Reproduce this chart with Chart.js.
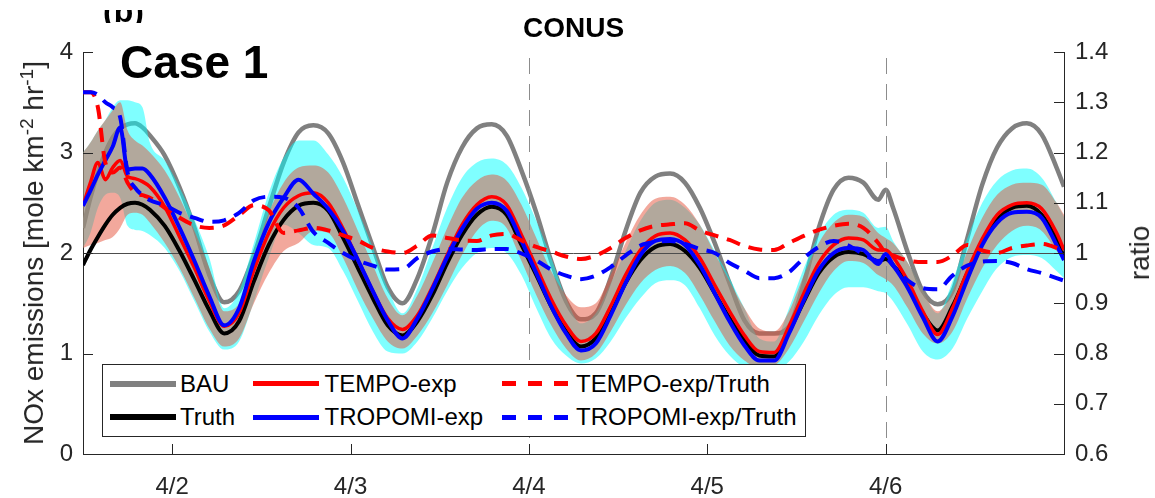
<!DOCTYPE html>
<html>
<head>
<meta charset="utf-8">
<script src="https://cdn.jsdelivr.net/npm/chart.js@4/dist/chart.umd.min.js"></script>
<style>
  html, body { margin: 0; padding: 0; background: #fff; }
  #wrap { position: relative; width: 1155px; height: 498px; overflow: hidden; background: #fff;
          font-family: 'Liberation Sans', Arial, Helvetica, sans-serif; }
  #c { position: absolute; left: 0; top: 0; }
  .abs { position: absolute; white-space: nowrap; line-height: 1; }
  sup { font-size: 0.68em; line-height: 0; vertical-align: 0.5em; }
  .lt { position: absolute; font-size: 24px; line-height: 24px; color: #000; white-space: nowrap; }
  .ls { position: absolute; width: 66px; }
</style>
</head>
<body>
<div id="wrap">
  <canvas id="c" width="1155" height="498"></canvas>

  <div class="abs" style="left:103px; top:10px; width:60px; height:13px; overflow:hidden;">
    <div class="abs" style="left:0; top:-14.6px; font-weight:bold; font-size:32px;">(b)</div>
  </div>
  <div class="abs" style="left:573.5px; top:14.3px; transform:translateX(-50%); font-weight:bold; font-size:28px;">CONUS</div>
  <div class="abs" style="left:120px; top:39px; font-weight:bold; font-size:46px;">Case 1</div>

  <div class="abs" style="left:34px; top:253px; transform:translate(-50%,-50%) rotate(-90deg); font-size:28px; color:#262626;">NOx emissions [mole km<sup>-2</sup> hr<sup>-1</sup>]</div>
  <div class="abs" style="left:1140px; top:253px; transform:translate(-50%,-50%) rotate(-90deg); font-size:28px; color:#262626;">ratio</div>

  <div id="legend" style="position:absolute; left:102px; top:364px; width:702px; height:71px; border:1px solid #262626; background:#fff;"></div>
  <div class="ls" style="left:110px; top:380.5px; height:6px; background:#808080;"></div>
  <div class="lt" style="left:180px; top:372px;">BAU</div>
  <div class="ls" style="left:110px; top:414px; height:6px; background:#000;"></div>
  <div class="lt" style="left:180px; top:405px;">Truth</div>
  <div class="ls" style="left:253px; top:381px; height:5px; background:#ff0000;"></div>
  <div class="lt" style="left:324.5px; top:372px;">TEMPO-exp</div>
  <div class="ls" style="left:253px; top:414.5px; height:5px; background:#0000ff;"></div>
  <div class="lt" style="left:324.5px; top:405px;">TROPOMI-exp</div>
  <div class="ls" style="left:502px; top:381px; height:5px; background:repeating-linear-gradient(to right,#ff0000 0 14px,transparent 14px 26px);"></div>
  <div class="lt" style="left:576px; top:372px;">TEMPO-exp/Truth</div>
  <div class="ls" style="left:502px; top:414.5px; height:5px; background:repeating-linear-gradient(to right,#0000ff 0 14px,transparent 14px 26px);"></div>
  <div class="lt" style="left:576px; top:405px;">TROPOMI-exp/Truth</div>
</div>

<script>
// ---- data (hours since 4/1 00:00) ----
const hours = [12,13,14,15,16,17,18,19,20,21, 23,25,27,29,31,33,35,37,39,41, 43,45,47,49,51,53,55,57,59,61,
  63,65,67,69,71,73,75,77,79,81, 83,85,87,89,91,93,95,97,99,101, 103,105,107,109,111,113,115,117,119,120,
  121,123,125,127,129,131,133,135,137,139, 141,143,144];

const tickHours = [24, 48, 72, 96, 120];
const tickLabels = ['4/2', '4/3', '4/4', '4/5', '4/6'];
const refHours = [72, 120];
const refNOx = 2;

const truth = [1.88,2.03,2.16,2.28,2.38,2.45,2.49,2.50,2.48,2.43,
  2.27,2.02,1.73,1.43,1.20,1.32,1.72,2.08,2.33,2.47,
  2.50,2.42,2.15,1.85,1.55,1.28,1.18,1.32,1.58,1.90,
  2.18,2.38,2.46,2.38,2.08,1.78,1.47,1.22,1.07,1.15,
  1.40,1.70,1.93,2.06,2.09,2.02,1.85,1.60,1.35,1.13,
  0.98,0.97,1.22,1.52,1.80,1.96,2.01,1.99,1.92,1.94,
  1.88,1.68,1.40,1.23,1.47,1.80,2.10,2.33,2.45,2.47,
  2.38,2.13,1.96];

const bau = [2.25,2.55,2.80,3.00,3.15,3.24,3.28,3.29,3.25,3.17,
  2.97,2.65,2.25,1.78,1.51,1.62,1.98,2.45,2.90,3.20,
  3.27,3.19,2.90,2.48,2.06,1.66,1.50,1.75,2.18,2.70,
  3.05,3.24,3.28,3.17,2.82,2.40,1.92,1.52,1.34,1.40,
  1.75,2.22,2.60,2.76,2.79,2.70,2.45,2.10,1.70,1.33,
  1.20,1.20,1.27,1.70,2.25,2.63,2.75,2.70,2.53,2.63,
  2.45,2.00,1.62,1.49,1.62,2.15,2.68,3.05,3.24,3.29,
  3.18,2.85,2.66];

const tempoExp = [2.47,2.70,2.90,2.73,2.85,2.92,2.76,2.74,2.71,2.66,
  2.46,2.16,1.85,1.52,1.27,1.40,1.83,2.20,2.45,2.57,
  2.60,2.50,2.24,1.93,1.62,1.35,1.24,1.38,1.66,1.98,
  2.28,2.48,2.56,2.48,2.18,1.86,1.54,1.28,1.12,1.20,
  1.47,1.78,2.03,2.17,2.20,2.13,1.95,1.68,1.42,1.18,
  1.02,1.01,1.27,1.60,1.90,2.08,2.15,2.13,2.03,2.03,
  1.96,1.72,1.42,1.19,1.45,1.82,2.14,2.38,2.48,2.50,
  2.44,2.20,2.03];

const tropomiExp = [2.47,2.62,2.78,2.92,3.06,3.25,2.83,2.84,2.84,2.78,
  2.55,2.25,1.92,1.57,1.28,1.45,1.92,2.30,2.55,2.73,
  2.59,2.44,2.22,1.93,1.62,1.33,1.15,1.35,1.64,1.96,
  2.24,2.44,2.50,2.42,2.12,1.80,1.47,1.20,1.03,1.10,
  1.38,1.70,1.98,2.12,2.14,2.08,1.88,1.60,1.32,1.08,
  0.93,0.93,1.20,1.53,1.83,2.00,2.05,2.03,1.89,1.99,
  1.88,1.65,1.36,1.12,1.37,1.74,2.08,2.30,2.40,2.41,
  2.35,2.08,1.93];

const tempoRatio = [1.32,1.32,1.29,1.18,1.16,1.17,1.14,1.12,1.115,1.11,
  1.09,1.07,1.055,1.05,1.055,1.075,1.095,1.085,1.04,1.045,
  1.05,1.045,1.035,1.025,1.01,1.003,1.0,1.015,1.035,1.03,
  1.025,1.024,1.035,1.038,1.025,1.012,1.003,0.993,0.988,0.995,
  1.01,1.03,1.045,1.054,1.057,1.059,1.045,1.035,1.026,1.014,
  1.007,1.006,1.02,1.034,1.046,1.054,1.058,1.05,1.02,1.0,
  0.995,0.985,0.982,0.982,0.995,1.016,1.005,1.0,1.01,1.015,
  1.018,1.01,1.003];

const tropomiRatio = [1.32,1.32,1.315,1.30,1.29,1.27,1.16,1.13,1.115,1.105,
  1.095,1.08,1.07,1.062,1.065,1.08,1.105,1.112,1.11,1.09,
  1.042,1.02,1.0,0.985,0.975,0.967,0.968,0.99,1.003,1.008,
  1.007,1.006,1.008,1.008,0.999,0.985,0.967,0.955,0.948,0.955,
  0.972,0.995,1.015,1.022,1.024,1.018,1.008,1.0,0.98,0.965,
  0.95,0.95,0.962,0.99,1.012,1.024,1.015,0.998,0.984,0.99,
  0.975,0.945,0.93,0.928,0.955,0.975,0.983,0.984,0.98,0.968,
  0.96,0.95,0.945];

const tempoHi = [3.00,3.10,3.22,3.32,3.42,3.50,3.22,3.12,3.07,3.00,
  2.82,2.55,2.22,1.85,1.42,1.50,1.95,2.40,2.70,2.85,
  2.87,2.80,2.55,2.22,1.88,1.55,1.38,1.58,1.90,2.25,
  2.55,2.72,2.78,2.72,2.48,2.15,1.82,1.58,1.46,1.50,
  1.78,2.10,2.38,2.54,2.56,2.48,2.28,2.00,1.72,1.45,
  1.25,1.22,1.42,1.78,2.10,2.30,2.38,2.36,2.20,2.15,
  2.10,1.90,1.62,1.42,1.62,2.02,2.35,2.58,2.68,2.70,
  2.68,2.50,2.38];

const tempoLo = [2.05,2.08,2.10,2.13,2.16,2.25,2.38,2.40,2.38,2.30,
  2.10,1.85,1.55,1.25,1.07,1.15,1.50,1.80,2.02,2.10,
  2.22,2.20,1.95,1.63,1.35,1.12,1.05,1.18,1.40,1.68,
  1.98,2.22,2.32,2.25,1.92,1.58,1.28,1.05,0.93,1.00,
  1.22,1.48,1.70,1.83,1.87,1.80,1.58,1.32,1.08,0.93,
  0.86,0.88,1.05,1.32,1.60,1.82,1.92,1.90,1.78,1.74,
  1.68,1.45,1.20,1.10,1.22,1.55,1.85,2.08,2.22,2.27,
  2.22,2.02,1.92];

const tropomiHi = [3.00,3.10,3.22,3.32,3.45,3.52,3.52,3.50,3.45,3.10,
  2.92,2.65,2.33,1.95,1.45,1.62,2.10,2.60,2.95,3.12,
  3.12,2.98,2.75,2.42,2.05,1.65,1.40,1.65,2.05,2.45,
  2.75,2.90,2.94,2.88,2.65,2.32,1.95,1.55,1.30,1.40,
  1.70,2.02,2.32,2.50,2.53,2.45,2.28,2.02,1.75,1.45,
  1.15,1.12,1.45,1.85,2.18,2.38,2.43,2.40,2.25,2.26,
  2.12,1.90,1.62,1.40,1.72,2.15,2.50,2.72,2.82,2.84,
  2.75,2.50,2.36];

const tropomiLo = [2.05,2.20,2.45,2.58,2.60,2.55,2.27,2.23,2.22,2.18,
  2.05,1.82,1.52,1.22,1.04,1.12,1.52,1.95,2.28,2.20,
  2.08,2.05,1.82,1.52,1.22,1.02,1.00,1.12,1.35,1.62,
  1.85,2.00,2.05,2.00,1.78,1.45,1.15,0.98,0.90,0.95,
  1.12,1.35,1.55,1.70,1.73,1.68,1.45,1.18,0.98,0.86,
  0.82,0.82,0.92,1.12,1.38,1.58,1.66,1.66,1.62,1.60,
  1.52,1.28,1.02,0.94,1.05,1.35,1.62,1.85,1.96,1.98,
  1.95,1.82,1.75];

// ---- chart ----
const FONT = "'Liberation Sans', Arial, Helvetica, sans-serif";
const AX = '#262626';
const pts = arr => arr.map((v, i) => ({ x: hours[i], y: v }));
const NONE = 'rgba(0,0,0,0)';

const refPlugin = {
  id: 'refLines',
  afterDatasetDraw(chart, args) {
    if (args.index !== 5) return;
    const { ctx, chartArea: a, scales } = chart;
    ctx.save();
    ctx.beginPath(); ctx.rect(a.left, a.top, a.right - a.left, a.bottom - a.top); ctx.clip();
    const y = Math.round(scales.y.getPixelForValue(refNOx)) + 0.5;
    ctx.strokeStyle = '#4d4d4d'; ctx.lineWidth = 1;
    ctx.beginPath(); ctx.moveTo(a.left, y); ctx.lineTo(a.right, y); ctx.stroke();
    ctx.strokeStyle = '#8c8c8c'; ctx.setLineDash([16, 10]);
    refHours.forEach(h => {
      const x = Math.round(scales.x.getPixelForValue(h)) + 0.5;
      ctx.beginPath(); ctx.moveTo(x, a.top + 6); ctx.lineTo(x, a.bottom); ctx.stroke();
    });
    ctx.restore();
  }
};

const tickPlugin = {
  id: 'innerTicks',
  afterDraw(chart) {
    const { ctx, chartArea: a, scales } = chart;
    ctx.save();
    ctx.strokeStyle = AX; ctx.lineWidth = 1;
    ctx.beginPath();
    scales.x.ticks.forEach(t => {
      const x = Math.round(scales.x.getPixelForValue(t.value)) + 0.5;
      ctx.moveTo(x, a.bottom); ctx.lineTo(x, a.bottom - 10);
    });
    scales.y.ticks.forEach(t => {
      const y = Math.round(scales.y.getPixelForValue(t.value)) + 0.5;
      ctx.moveTo(a.left, y); ctx.lineTo(a.left + 10, y);
    });
    scales.y1.ticks.forEach(t => {
      const y = Math.round(scales.y1.getPixelForValue(t.value)) + 0.5;
      ctx.moveTo(a.right, y); ctx.lineTo(a.right - 10, y);
    });
    ctx.stroke();
    ctx.restore();
  }
};

new Chart(document.getElementById('c'), {
  type: 'line',
  data: {
    datasets: [
      { label: 'TROPOMI-exp/Truth', data: pts(tropomiRatio), yAxisID: 'y1', borderColor: '#0000ff', borderWidth: 4, borderDash: [14, 9], order: 1 },
      { label: 'TEMPO-exp/Truth', data: pts(tempoRatio), yAxisID: 'y1', borderColor: '#ff0000', borderWidth: 4, borderDash: [14, 9], order: 2 },
      { label: 'TROPOMI-exp', data: pts(tropomiExp), borderColor: '#0000ff', borderWidth: 4, order: 3 },
      { label: 'TEMPO-exp', data: pts(tempoExp), borderColor: '#ff0000', borderWidth: 3.5, order: 4 },
      { label: 'Truth', data: pts(truth), borderColor: '#000000', borderWidth: 4, order: 5 },
      { label: 'TEMPO-exp spread (upper)', data: pts(tempoHi), fill: '+1', backgroundColor: 'rgba(229,81,57,0.5)', borderColor: NONE, borderWidth: 0, order: 8 },
      { label: 'TEMPO-exp spread (lower)', data: pts(tempoLo), fill: false, borderColor: NONE, borderWidth: 0, order: 8 },
      { label: 'TROPOMI-exp spread (upper)', data: pts(tropomiHi), fill: '+1', backgroundColor: 'rgba(0,255,255,0.5)', borderColor: NONE, borderWidth: 0, order: 9 },
      { label: 'TROPOMI-exp spread (lower)', data: pts(tropomiLo), fill: false, borderColor: NONE, borderWidth: 0, order: 9 },
      { label: 'BAU', data: pts(bau), borderColor: '#808080', borderWidth: 4.5, order: 10 }
    ]
  },
  options: {
    responsive: false,
    devicePixelRatio: 1,
    animation: false,
    events: [],
    layout: { padding: { top: 52, left: 0, right: 0, bottom: 0 } },
    elements: {
      point: { radius: 0, hoverRadius: 0 },
      line: { cubicInterpolationMode: 'monotone', borderCapStyle: 'butt', borderJoinStyle: 'round' }
    },
    plugins: { legend: { display: false }, tooltip: { enabled: false }, title: { display: false } },
    scales: {
      x: {
        type: 'linear', min: 12, max: 144,
        afterBuildTicks: s => { s.ticks = tickHours.map(v => ({ value: v })); },
        afterFit: s => { s.height = 44; },
        ticks: {
          autoSkip: false, maxRotation: 0, padding: 19, color: AX,
          font: { family: FONT, size: 24 },
          callback: v => { const i = tickHours.indexOf(v); return i >= 0 ? tickLabels[i] : ''; }
        },
        grid: { display: false, drawTicks: false },
        border: { display: true, color: AX, width: 1 }
      },
      y: {
        position: 'left', min: 0, max: 4,
        afterFit: s => { s.width = 83; },
        ticks: { stepSize: 1, padding: 10, color: AX, font: { family: FONT, size: 24 } },
        grid: { display: false, drawTicks: false },
        border: { display: true, color: AX, width: 1 }
      },
      y1: {
        position: 'right', min: 0.6, max: 1.4,
        afterFit: s => { s.width = 91; },
        ticks: { stepSize: 0.1, padding: 11, color: AX, font: { family: FONT, size: 24 },
                 callback: v => String(+Number(v).toFixed(1)) },
        grid: { display: false, drawTicks: false },
        border: { display: true, color: AX, width: 1 }
      }
    }
  },
  plugins: [refPlugin, tickPlugin]
});
</script>
</body>
</html>
